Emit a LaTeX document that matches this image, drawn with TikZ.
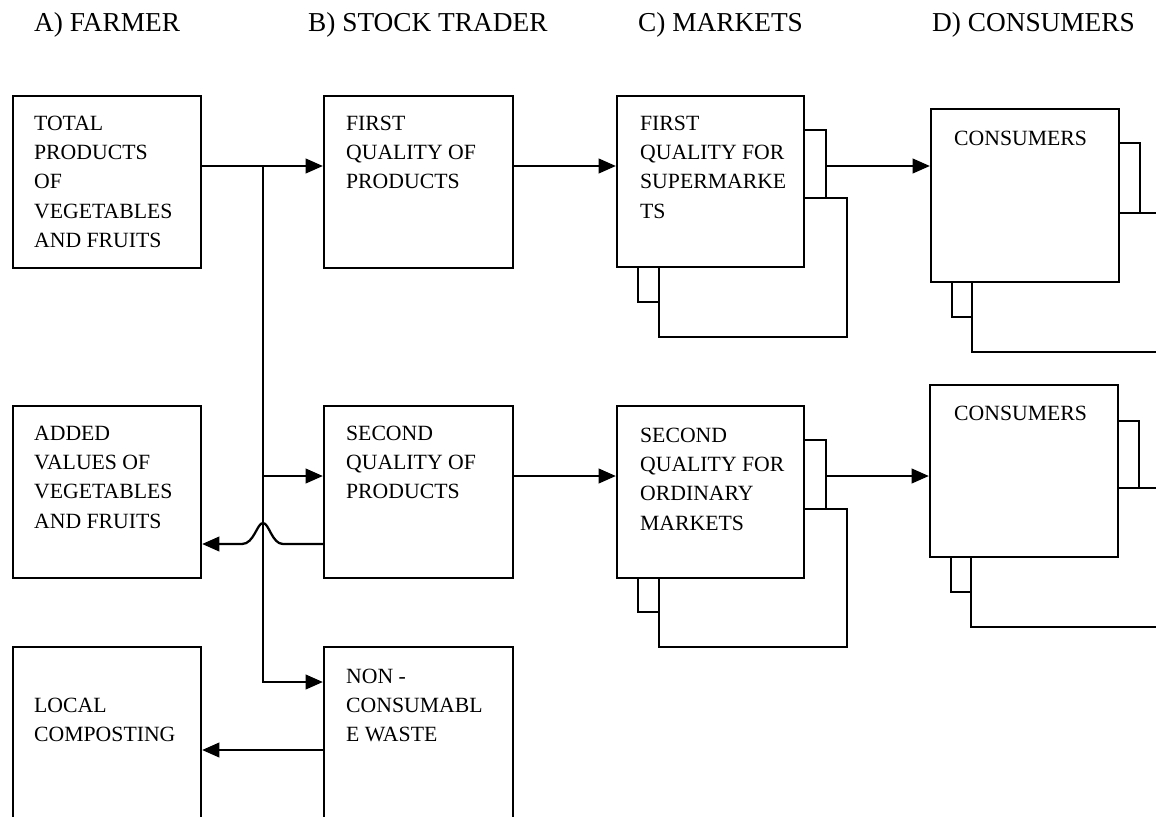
\documentclass[tikz,border=0pt]{standalone}
\usepackage{fontspec}
\setmainfont{Liberation Serif}
\usetikzlibrary{arrows.meta,fit}
\begin{document}
\begin{tikzpicture}[x=0.75pt,y=-0.75pt,line width=1.7pt,
  box/.style={draw,fill=white,inner sep=0pt},
  txt/.style={anchor=base west,inner sep=0pt,font=\fontsize{16.3}{22.1}\selectfont},
  hdr/.style={anchor=base west,inner sep=0pt,font=\fontsize{20.5}{24}\selectfont},
  arr/.style={-{Triangle[length=13pt,width=11pt]}}]
\useasboundingbox (0,0) rectangle (1156,817);
\clip (0,0) rectangle (1156,817);
\fill[white] (0,0) rectangle (1156,817);

% headers
\node[hdr] (ha) at (33,32) {A) FARMER};
\node[hdr] (hb) at (307,32) {B) STOCK TRADER};
\node[hdr] (hc) at (637,32) {C) MARKETS};
\node[hdr] (hd) at (931,32) {D) CONSUMERS};

% column A
\node[box,fit={(13,96) (201,268)}] (a1) {};
\node[box,fit={(13,406) (201,578)}] (a2) {};
\node[box,fit={(13,647) (201,840)}] (a3) {};
% column B
\node[box,fit={(324,96) (513,268)}] (b1) {};
\node[box,fit={(324,406) (513,578)}] (b2) {};
\node[box,fit={(324,647) (513,840)}] (b3) {};
% column C (stacked)
\node[box,fit={(638,130) (826,302)}] (c1m) {};
\node[box,fit={(659,198) (847,337)}] (c1b) {};
\node[box,fit={(617,96) (804,267)}] (c1) {};
\node[box,fit={(638,440) (826,612)}] (c2m) {};
\node[box,fit={(659,509) (847,647)}] (c2b) {};
\node[box,fit={(617,406) (804,578)}] (c2) {};
% column D (stacked)
\node[box,fit={(952,143) (1140,317)}] (d1m) {};
\node[box,fit={(972,213) (1160,352)}] (d1b) {};
\node[box,fit={(931,109) (1119,282)}] (d1) {};
\node[box,fit={(951,421) (1139,592)}] (d2m) {};
\node[box,fit={(971,488) (1159,627)}] (d2b) {};
\node[box,fit={(930,385) (1118,557)}] (d2) {};

% texts
\node[txt] (a1t) at (33,130) {\begin{tabular}[t]{@{}l@{}}TOTAL\\PRODUCTS\\OF\\VEGETABLES\\AND FRUITS\end{tabular}};
\node[txt] (a2t) at (33,440) {\begin{tabular}[t]{@{}l@{}}ADDED\\VALUES OF\\VEGETABLES\\AND FRUITS\end{tabular}};
\node[txt] (a3t) at (33,712) {\begin{tabular}[t]{@{}l@{}}LOCAL\\COMPOSTING\end{tabular}};
\node[txt] (b1t) at (345,130) {\begin{tabular}[t]{@{}l@{}}FIRST\\QUALITY OF\\PRODUCTS\end{tabular}};
\node[txt] (b2t) at (345,440) {\begin{tabular}[t]{@{}l@{}}SECOND\\QUALITY OF\\PRODUCTS\end{tabular}};
\node[txt] (b3t) at (345,683) {\begin{tabular}[t]{@{}l@{}}NON -\\CONSUMABL\\E WASTE\end{tabular}};
\node[txt] (c1t) at (639,130) {\begin{tabular}[t]{@{}l@{}}FIRST\\QUALITY FOR\\SUPERMARKE\\TS\end{tabular}};
\node[txt] (c2t) at (639,442) {\begin{tabular}[t]{@{}l@{}}SECOND\\QUALITY FOR\\ORDINARY\\MARKETS\end{tabular}};
\node[txt] (d1t) at (953,145) {CONSUMERS};
\node[txt] (d2t) at (953,420) {CONSUMERS};

% routing coordinates
\coordinate (r1) at (0,166);
\coordinate (r2) at (0,476);
\coordinate (r2b) at (0,544);
\coordinate (r3) at (0,682);
\coordinate (r3b) at (0,750);
\coordinate (tx) at (263,0);
\coordinate (hopR) at (283,544);
\coordinate (hopP) at (263,523);
\coordinate (hopL) at (242,544);

% connectors
\draw[arr] (a1.east |- r1) -- (b1.west |- r1);
\draw[arr] (tx |- r1) -- (tx |- r3) -- (b3.west |- r3);
\draw[arr] (tx |- r2) -- (b2.west |- r2);
\draw[arr] (b2.west |- r2b) -- (hopR) .. controls (272,544) and (269,523) .. (hopP)
  .. controls (257,523) and (254,544) .. (hopL) -- (a2.east |- r2b);
\draw[arr] (b3.west |- r3b) -- (a3.east |- r3b);
\draw[arr] (b1.east |- r1) -- (c1.west |- r1);
\draw[arr] (c1m.east |- r1) -- (d1.west |- r1);
\draw[arr] (b2.east |- r2) -- (c2.west |- r2);
\draw[arr] (c2m.east |- r2) -- (d2.west |- r2);
\end{tikzpicture}
\end{document}
